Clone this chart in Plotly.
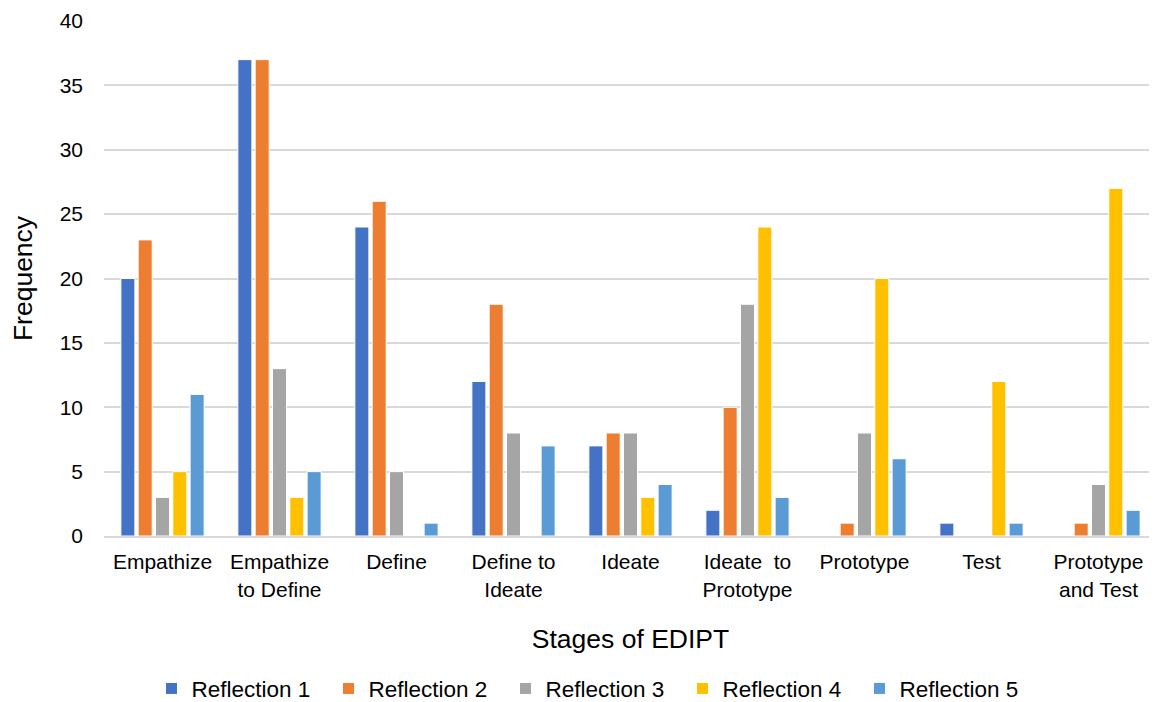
import plotly.graph_objects as go

categories = ["Empathize", "Empathize<br>to Define", "Define", "Define to<br>Ideate", "Ideate",
              "Ideate  to<br>Prototype", "Prototype", "Test", "Prototype<br>and Test"]
series_names = ["Reflection 1", "Reflection 2", "Reflection 3", "Reflection 4", "Reflection 5"]
reflection1 = [20, 37, 24, 12, 7, 2, 0, 1, 0]
reflection2 = [23, 37, 26, 18, 8, 10, 1, 0, 1]
reflection3 = [3, 13, 5, 8, 8, 18, 8, 0, 4]
reflection4 = [5, 3, 0, 0, 3, 24, 20, 12, 27]
reflection5 = [11, 5, 1, 7, 4, 3, 6, 1, 2]
colors = ["#4472C4", "#ED7D31", "#A5A5A5", "#FFC000", "#5B9BD5"]

font = "Liberation Sans, Arial, sans-serif"
fig = go.Figure()
for name, vals, c in zip(series_names, [reflection1, reflection2, reflection3, reflection4, reflection5], colors):
    fig.add_trace(go.Bar(x=categories, y=vals, name=name,
                         marker=dict(color=c, line=dict(color="white", width=1))))

# page body has an 8px default margin, so the figure is sized/offset to compensate
fig.update_layout(
    width=1149, height=694,
    margin=dict(l=96, r=0, t=13, b=166),
    paper_bgcolor="white", plot_bgcolor="white",
    barmode="group", bargap=0.26, bargroupgap=0.19,
    font=dict(family=font, size=21, color="#000000"),
    xaxis=dict(
        title=dict(text="Stages of EDIPT", font=dict(size=26.5), standoff=30),
        showline=True, linecolor="#D9D9D9", linewidth=2,
        tickfont=dict(size=21), ticks="", showgrid=False, automargin=False,
        ticklabelstandoff=6,
    ),
    yaxis=dict(
        title=dict(text="Frequency", font=dict(size=26.5), standoff=22),
        range=[0, 40], dtick=5, showgrid=True, gridcolor="#D9D9D9", gridwidth=2,
        zeroline=False, showline=False, tickfont=dict(size=21), ticks="",
        ticklabelstandoff=20, automargin=False,
    ),
    legend=dict(orientation="h", xref="container", x=0.510, xanchor="center",
                yref="container", y=0.019, yanchor="middle",
                font=dict(size=22.5), itemwidth=30, traceorder="normal",
                entrywidth=132, entrywidthmode="pixels"),
)
fig.write_html("out.html")
